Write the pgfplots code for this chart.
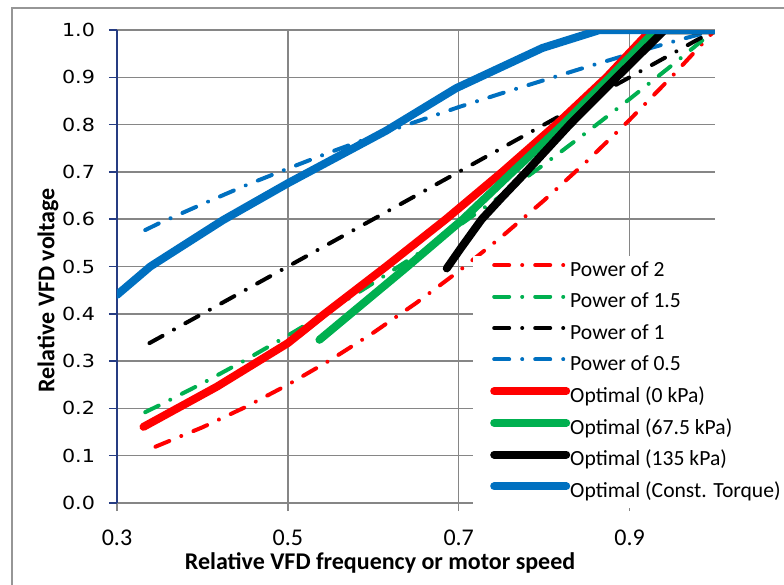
\documentclass[border=0pt]{standalone}
\usepackage{fontspec}
\setmainfont{Carlito}
\newfontfamily\yfont[FakeStretch=1.15]{DejaVu Sans}
\usepackage{pgfplots}
\pgfplotsset{compat=1.18}
\definecolor{xlred}{RGB}{255,0,0}
\definecolor{xlgreen}{RGB}{0,176,80}
\definecolor{xlblue}{RGB}{0,112,192}
\definecolor{navy}{RGB}{38,60,130}
\definecolor{gridgray}{RGB}{134,134,134}
\definecolor{framegray}{RGB}{150,150,150}
\begin{document}
\begin{tikzpicture}[x=1pt,y=1pt]
\useasboundingbox (-58.5,-41) rectangle (333.5,251.5);
\draw[framegray, line width=1pt] (-52.5,-45) -- (-52.5,247.5) -- (340,247.5);
\begin{axis}[
  at={(0,0)}, anchor=south west,
  scale only axis, width=299pt, height=236.5pt,
  xmin=0.3, xmax=1.0, ymin=0, ymax=1.0,
  xtick={0.3,0.5,0.7,0.9},
  ytick={0,0.1,0.2,0.3,0.4,0.5,0.6,0.7,0.8,0.9,1.0},
  axis lines=left,
  axis line style={-},
  x axis line style={draw=gridgray, line width=0.75pt},
  y axis line style={draw=navy, line width=0.9pt},
  grid=major,
  major grid style={draw=gridgray, line width=0.75pt},
  tick align=outside,
  major tick length=4pt,
  xtick style={draw=gridgray, line width=0.75pt},
  ytick style={draw=navy, line width=0.75pt},
  /pgf/number format/assume math mode=true,
  xticklabel style={font=\fontsize{12}{14}\selectfont, yshift=-6pt, /pgf/number format/fixed, /pgf/number format/fixed zerofill, /pgf/number format/precision=1},
  yticklabel style={font=\yfont\fontsize{9}{11}\selectfont, xshift=-3.5pt, /pgf/number format/fixed, /pgf/number format/fixed zerofill, /pgf/number format/precision=1},
  xlabel={Relative VFD frequency or motor speed},
  ylabel={Relative VFD voltage},
  every axis x label/.style={at={(axis description cs:0.44,0)}, anchor=center, yshift=-30pt, font=\bfseries\fontsize{12}{14}\selectfont},
  every axis y label/.style={at={(axis description cs:-0.1154,0.45)}, rotate=90, anchor=center, font=\bfseries\fontsize{12}{14}\selectfont},
  no marks,
  legend style={at={(0.595,0.524)}, anchor=north west, draw=none, fill=white,
    font=\fontsize{10.8}{13}\selectfont, inner xsep=8.5pt, inner ysep=3pt, row sep=6pt,
    nodes={inner sep=0pt, text height=7.5pt, text depth=2.2pt, anchor=west},
    /tikz/every even column/.append style={column sep=2.5pt}},
  legend cell align=left,
  legend image code/.code={\draw[#1] (0pt,3pt) -- (36pt,3pt);},
  dd/.style={line width=2pt, line cap=round, dash pattern=on 7.5pt off 6.5pt on 0.01pt off 6.5pt},
  thk/.style={line width=4pt, line cap=round, line join=round},
]
\addplot[xlred, dd] coordinates {(0.345,0.119)(0.4,0.16)(0.45,0.2025)(0.5,0.25)(0.55,0.3025)(0.6,0.36)(0.65,0.4225)(0.7,0.49)(0.75,0.5625)(0.8,0.64)(0.85,0.7225)(0.9,0.81)(0.95,0.9025)(1.0,1.0)};
\addlegendentry{Power of 2}
\addplot[xlgreen, dd] coordinates {(0.333,0.192)(0.35,0.207)(0.4,0.253)(0.45,0.302)(0.5,0.354)(0.55,0.408)(0.6,0.465)(0.65,0.524)(0.7,0.586)(0.75,0.650)(0.8,0.716)(0.85,0.784)(0.9,0.854)(0.95,0.926)(1.0,1.0)};
\addlegendentry{Power of 1.5}
\addplot[black, dd] coordinates {(0.338,0.338)(0.4,0.4)(0.5,0.5)(0.6,0.6)(0.7,0.7)(0.8,0.8)(0.9,0.9)(1.0,1.0)};
\addlegendentry{Power of 1}
\addplot[xlblue, dd] coordinates {(0.333,0.577)(0.35,0.592)(0.4,0.632)(0.45,0.671)(0.5,0.707)(0.55,0.742)(0.6,0.775)(0.65,0.806)(0.7,0.837)(0.75,0.866)(0.8,0.894)(0.85,0.922)(0.9,0.949)(0.95,0.975)(1.0,1.0)};
\addlegendentry{Power of 0.5}
\addplot[xlred, thk] coordinates {(0.331,0.161)(0.417,0.246)(0.5,0.338)(0.543,0.4)(0.615,0.5)(0.685,0.6)(0.751,0.7)(0.814,0.8)(0.873,0.9)(0.925,1.0)(1.0,1.0)};
\addlegendentry{Optimal (0 kPa)}
\addplot[xlgreen, thk] coordinates {(0.537,0.345)(0.64,0.5)(0.705,0.6)(0.763,0.7)(0.822,0.8)(0.877,0.9)(0.931,1.0)(1.0,1.0)};
\addlegendentry{Optimal (67.5 kPa)}
\addplot[black, thk] coordinates {(0.686,0.496)(0.703,0.54)(0.727,0.6)(0.75,0.645)(0.779,0.7)(0.83,0.8)(0.885,0.9)(0.941,1.0)(1.0,1.0)};
\addlegendentry{Optimal (135 kPa)}
\addplot[xlblue, thk] coordinates {(0.3,0.44)(0.339,0.5)(0.424,0.598)(0.5,0.676)(0.615,0.787)(0.697,0.877)(0.798,0.962)(0.865,1.0)(1.0,1.0)};
\addlegendentry{Optimal (Const. Torque)}
\end{axis}
\end{tikzpicture}
\end{document}
